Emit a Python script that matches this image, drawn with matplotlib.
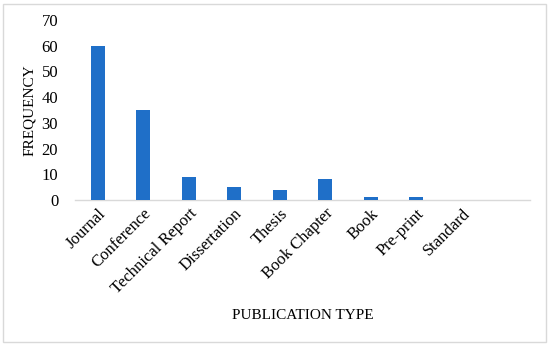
import numpy as np
import matplotlib.pyplot as plt
from matplotlib.patches import Rectangle

# Données du graphique
categories = ["Journal", "Conference", "Technical Report", "Dissertation", "Thesis",
              "Book Chapter", "Book", "Pre-print", "Standard"]
frequences = [60, 35, 9, 5, 4, 8, 1, 1, 0]
yticks = [0, 10, 20, 30, 40, 50, 60, 70]

plt.rcParams['font.family'] = ['Liberation Serif', 'DejaVu Serif']

fig = plt.figure(figsize=(5.5, 3.46), dpi=100)
ax = fig.add_axes([0.136, 0.422, 0.828, 0.52])

x = np.arange(len(categories))
ax.bar(x, frequences, width=0.31, color="#1f6fc8", zorder=3)

ax.set_xlim(-0.5, len(categories) + 0.5)
ax.set_ylim(0, 70)
ax.set_yticks(yticks)
ax.set_xticks(x)
ax.set_xticklabels(categories, rotation=45, ha="right", rotation_mode="anchor", fontsize=12)
ax.tick_params(axis="y", labelsize=12, length=0, pad=12)
ax.tick_params(axis="x", length=0, pad=4)

for s in ["top", "right", "left"]:
    ax.spines[s].set_visible(False)
ax.spines["bottom"].set_color("#d9d9d9")
ax.spines["bottom"].set_linewidth(1.0)

ax.set_ylabel("FREQUENCY", fontsize=11, labelpad=4)
fig.text(0.55, 0.088, "PUBLICATION TYPE", fontsize=11, ha="center", va="center")

# cadre autour de la figure
fig.patches.append(Rectangle((0.006, 0.012), 0.986, 0.975, transform=fig.transFigure,
                             fill=False, edgecolor="#d9d9d9", linewidth=1.0))

plt.savefig("out.png", dpi=100)
